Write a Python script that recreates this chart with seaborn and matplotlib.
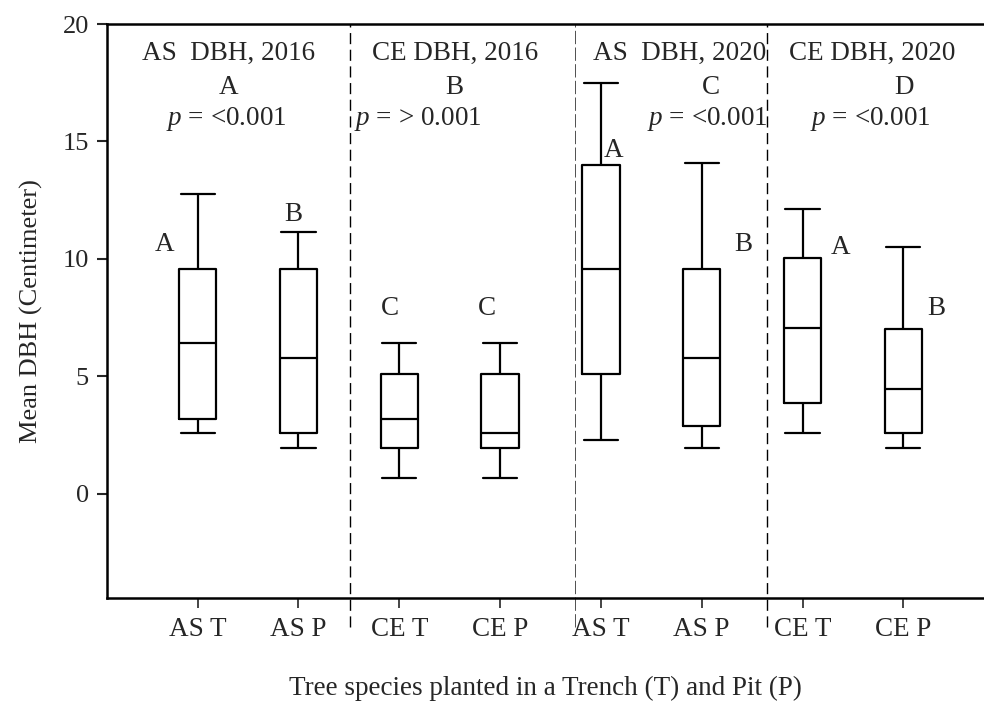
import numpy as np
import pandas as pd
import matplotlib
matplotlib.use("Agg")
import matplotlib.pyplot as plt
import seaborn as sns

# ---- data (five-number summaries) ----
groups = ["AS T 2016", "AS P 2016", "CE T 2016", "CE P 2016",
          "AS T 2020", "AS P 2020", "CE T 2020", "CE P 2020"]
tick_labels = ["AS T", "AS P", "CE T", "CE P", "AS T", "AS P", "CE T", "CE P"]
whisker_low = [2.57, 1.94, 0.65, 0.65, 2.27, 1.94, 2.57, 1.94]
q1 = [3.19, 2.57, 1.92, 1.92, 5.11, 2.87, 3.84, 2.57]
median = [6.40, 5.78, 3.19, 2.57, 9.58, 5.78, 7.03, 4.46]
q3 = [9.58, 9.58, 5.11, 5.11, 14.00, 9.58, 10.04, 7.02]
whisker_high = [12.75, 11.16, 6.41, 6.41, 17.50, 14.08, 12.10, 10.50]

panel_titles = ["AS  DBH, 2016", "CE DBH, 2016", "AS  DBH, 2020", "CE DBH, 2020"]
panel_letters = ["A", "B", "C", "D"]
panel_p = ["$p$ = <0.001", "$p$ = > 0.001", "$p$ = <0.001", "$p$ = <0.001"]
box_letters = ["A", "B", "C", "C", "A", "B", "A", "B"]

rows = []
for g, lo, a, m, b, hi in zip(groups, whisker_low, q1, median, q3, whisker_high):
    for v in (lo, a, m, b, hi):
        rows.append({"group": g, "value": v})
df = pd.DataFrame(rows)

sns.set_style("ticks")
plt.rcParams["font.family"] = ["Liberation Serif", "DejaVu Serif"]
plt.rcParams["mathtext.fontset"] = "custom"
plt.rcParams["mathtext.rm"] = "Liberation Serif"
plt.rcParams["mathtext.it"] = "Liberation Serif:italic"

FS = 19.5

fig = plt.figure(figsize=(9.84, 7.04), dpi=100)
ax = fig.add_axes([0.1087, 0.1506, 0.8913, 0.8153])

sns.boxplot(data=df, x="group", y="value", order=groups, whis=(0, 100),
            fill=False, color="black", linecolor="black", width=0.37,
            linewidth=1.6, showfliers=False, capwidths=0.34, ax=ax)

ax.set_xlim(-0.9, 7.8)
ax.set_ylim(-4.45, 20)
ax.set_yticks([0, 5, 10, 15, 20])
ax.set_xticks(range(len(groups)))
ax.set_xticklabels(tick_labels, fontsize=FS)
ax.tick_params(axis="y", labelsize=FS - 0.5, length=7, width=1.5, pad=6, direction="out")
ax.tick_params(axis="x", length=7, width=1.2, pad=7, direction="out")

for side in ["left", "bottom", "top"]:
    ax.spines[side].set_linewidth(1.8)
    ax.spines[side].set_color("black")
ax.spines["right"].set_visible(False)

# separators (extend slightly below the x axis, as in the original)
sep_low = -0.05
ax.axvline(1.51, ymin=sep_low, ymax=1, color="black", lw=1.0, ls=(0, (8, 4)), clip_on=False)
ax.axvline(3.74, ymin=sep_low, ymax=1, color="#333333", lw=0.6, ls=(0, (16, 4)), clip_on=False)
ax.axvline(5.65, ymin=sep_low, ymax=1, color="black", lw=1.0, ls=(0, (8, 4)), clip_on=False)

# panel headers
title_x = [0.31, 2.55, 4.78, 6.69]
letter_x = [0.31, 2.55, 5.09, 7.01]
p_x = [0.28, 2.18, 5.06, 6.67]
for tx, lx, px, t, l, p in zip(title_x, letter_x, p_x, panel_titles, panel_letters, panel_p):
    ax.text(tx, 18.75, t, ha="center", va="center", fontsize=FS)
    ax.text(lx, 17.3, l, ha="center", va="center", fontsize=FS)
    ax.text(px, 15.95, p, ha="center", va="center", fontsize=FS)

# letters near boxes
bl_x = [-0.33, 0.95, 1.91, 2.87, 4.13, 5.41, 6.38, 7.33]
bl_y = [10.6, 11.9, 7.9, 7.9, 14.6, 10.6, 10.5, 7.9]
for x, y, s in zip(bl_x, bl_y, box_letters):
    ax.text(x, y, s, ha="center", va="center", fontsize=FS)

ax.set_xlabel("Tree species planted in a Trench (T) and Pit (P)", fontsize=FS, labelpad=24)
ax.set_ylabel("Mean DBH (Centimeter)", fontsize=FS - 0.5, labelpad=14)

fig.savefig("out.png", dpi=100)
